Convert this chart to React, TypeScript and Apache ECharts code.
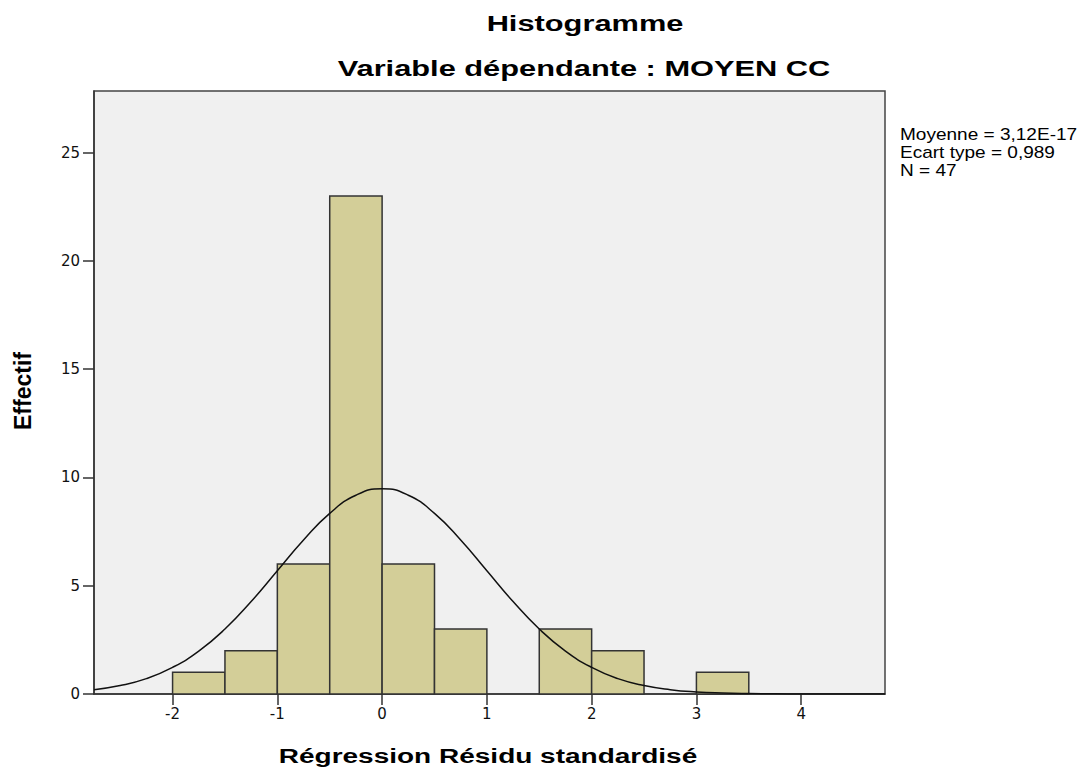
import React, { useEffect, useRef } from "react";
import * as echarts from "echarts";

// Histogram bins: [start, end, count]
const binStarts = [-2, -1.5, -1, -0.5, 0, 0.5, 1, 1.5, 2, 2.5, 3];
const binWidth = 0.5;
const binCounts = [1, 2, 6, 23, 6, 3, 0, 3, 2, 0, 1];

// Normal curve
const curveX = [-2.75, -2.5, -2.25, -2, -1.75, -1.5, -1.25, -1, -0.75, -0.5, -0.25, 0, 0.25, 0.5, 0.75, 1, 1.25, 1.5, 1.75, 2, 2.25, 2.5, 2.75, 3, 3.25, 3.5, 3.75, 4, 4.25, 4.5, 4.8];
const curveY = [0.2, 0.39, 0.71, 1.23, 1.98, 3.0, 4.27, 5.69, 7.11, 8.34, 9.18, 9.48, 9.18, 8.34, 7.11, 5.69, 4.27, 3.0, 1.98, 1.23, 0.71, 0.39, 0.2, 0.095, 0.043, 0.018, 0.007, 0.003, 0.001, 0.0, 0.0];

const xTicks = [-2, -1, 0, 1, 2, 3, 4];
const yTicks = [0, 5, 10, 15, 20, 25];

const titleText = "Histogramme";
const subtitleText = "Variable dépendante : MOYEN CC";
const xName = "Régression Résidu standardisé";
const yName = "Effectif";
const statsLines = ["Moyenne = 3,12E-17", "Ecart type = 0,989", "N = 47"];

const FONT = "Liberation Sans, Arial, sans-serif";

export default function App() {
  const ref = useRef<HTMLDivElement>(null);
  useEffect(() => {
    document.body.style.margin = "0";
    const chart = echarts.init(ref.current!, null, { renderer: "svg" });
    const bars = binStarts.map((s, i) => [s, s + binWidth, binCounts[i]]).filter((d) => d[2] > 0);
    const txt = (text: string, x: number, y: number, size: number, bold: boolean, scaleX: number, extra: any = {}) => ({
      type: "text",
      x,
      y,
      scaleX,
      ...extra,
      style: {
        text,
        font: `${bold ? "bold " : ""}${size}px ${FONT}`,
        fill: "#000",
        textAlign: "center",
        textVerticalAlign: "middle",
      },
    });
    chart.setOption({
      animation: false,
      backgroundColor: "#ffffff",
      textStyle: { fontFamily: FONT },
      graphic: [
        txt(titleText, 585, 24, 22, true, 1.4),
        txt(subtitleText, 584, 69, 22, true, 1.4),
        txt(xName, 488, 756, 20, true, 1.4),
        {
          type: "text",
          x: 23,
          y: 391,
          rotation: Math.PI / 2,
          style: {
            text: yName,
            font: `bold 23px ${FONT}`,
            fill: "#000",
            textAlign: "center",
            textVerticalAlign: "middle",
          },
        },
        {
          type: "text",
          x: 900,
          y: 125,
          scaleX: 1.12,
          style: {
            text: statsLines.join("\n"),
            font: `17px ${FONT}`,
            lineHeight: 18,
            fill: "#000",
          },
        },
      ],
      grid: {
        left: 94,
        top: 91,
        width: 791,
        height: 603,
        show: true,
        backgroundColor: "#f0f0f0",
        borderColor: "#444",
        borderWidth: 1.5,
      },
      xAxis: {
        type: "value",
        min: -2.75,
        max: 4.8,
        splitLine: { show: false },
        axisLine: { show: true, onZero: false, lineStyle: { color: "#333", width: 1.5 } },
        axisTick: { show: true, length: 11, customValues: xTicks, lineStyle: { color: "#333", width: 1.5 } },
        axisLabel: { customValues: xTicks, fontSize: 15, fontFamily: "DejaVu Sans", color: "#111", margin: 12 },
      },
      yAxis: {
        type: "value",
        min: 0,
        max: 27.85,
        splitLine: { show: false },
        axisLine: { show: true, onZero: false, lineStyle: { color: "#333", width: 1.5 } },
        axisTick: { show: true, length: 11, customValues: yTicks, lineStyle: { color: "#333", width: 1.5 } },
        axisLabel: { customValues: yTicks, fontSize: 15, fontFamily: "DejaVu Sans", color: "#111", margin: 14 },
      },
      series: [
        {
          type: "custom",
          data: bars,
          encode: { x: [0, 1], y: 2 },
          renderItem: (params: any, api: any) => {
            const p0 = api.coord([api.value(0), api.value(2)]);
            const p1 = api.coord([api.value(1), 0]);
            return {
              type: "rect",
              shape: { x: p0[0], y: p0[1], width: p1[0] - p0[0], height: p1[1] - p0[1] },
              style: { fill: "#d3ce98", stroke: "#333", lineWidth: 1.5 },
            };
          },
          z: 2,
        },
        {
          type: "line",
          data: curveX.map((x, i) => [x, curveY[i]]),
          smooth: true,
          showSymbol: false,
          lineStyle: { color: "#111", width: 1.5 },
          z: 3,
        },
      ],
    });
    return () => chart.dispose();
  }, []);
  return <div ref={ref} style={{ width: 1090, height: 771 }} />;
}
